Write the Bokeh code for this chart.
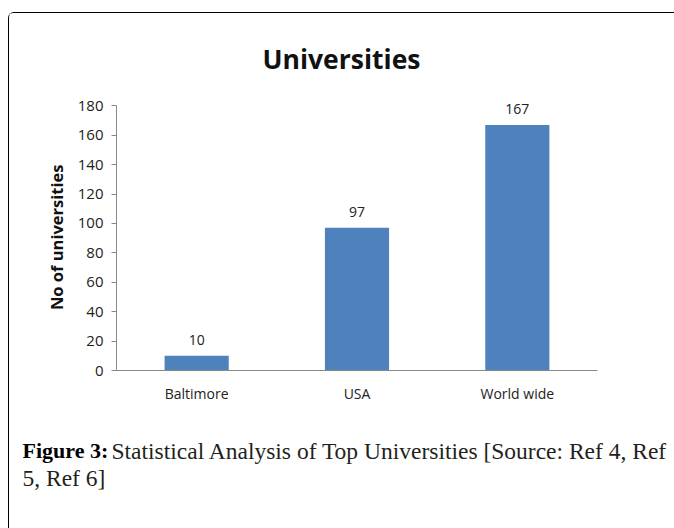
from bokeh.plotting import figure
from bokeh.layouts import column
from bokeh.models import ColumnDataSource, LabelSet, FactorRange, Range1d, FixedTicker
from bokeh.core.properties import value
from bokeh.embed import file_html
from bokeh.resources import INLINE

categories = ["Baltimore", "USA", "World wide"]
counts = [10, 97, 167]
y_ticks = [0, 20, 40, 60, 80, 100, 120, 140, 160, 180]
chart_title = "Universities"
y_label = "No of universities"
caption_bold = "Figure 3:"
caption_line1 = "Statistical Analysis of Top Universities [Source: Ref 4, Ref"
caption_line2 = "5, Ref 6]"

W = 665


def text_panel(height, top):
    f = figure(width=W, height=height, output_backend="svg", toolbar_location=None,
               x_range=Range1d(9, 9 + W), y_range=Range1d(top + height, top),
               x_axis_type=None, y_axis_type=None, min_border=0, frame_align=False)
    f.title = None
    f.outline_line_color = None
    f.grid.grid_line_color = None
    return f


# ---- title panel (page y 13..85)
t = text_panel(72, 13)
t.text(x=[341], y=[58], text=[chart_title], text_align="center", text_baseline="middle",
       text_font=value("Open Sans"), text_font_style="bold", text_font_size="26.5px",
       text_color="#111111")

# ---- chart (page y 85..410); small headroom above 180 keeps the "167" label unclipped
source = ColumnDataSource(data=dict(cat=categories, n=counts, lbl=[str(v) for v in counts]))
p = figure(width=W, height=325, output_backend="svg", toolbar_location=None,
           x_range=FactorRange(*categories, range_padding=0), y_range=Range1d(0, 187),
           min_border_left=107, min_border_right=77, min_border_top=10, min_border_bottom=40,
           frame_align=False)
p.title = None
p.outline_line_color = None
p.xgrid.grid_line_color = None
p.ygrid.grid_line_color = None

p.vbar(x="cat", top="n", width=0.4, source=source, color="#4F81BD", line_color=None)

p.add_layout(LabelSet(x="cat", y="n", text="lbl", source=source, text_align="center",
                      text_baseline="bottom", y_offset=11, text_font=value("Open Sans"),
                      text_font_size="14px", text_color="#222222"))

ax = p.yaxis[0]
ax.ticker = FixedTicker(ticks=y_ticks)
ax.bounds = (0, 180)
ax.axis_line_color = "#888888"
ax.major_tick_line_color = "#888888"
ax.major_tick_out = 5
ax.major_tick_in = 0
ax.minor_tick_line_color = None
ax.major_label_text_font = "Open Sans"
ax.major_label_text_font_size = "15px"
ax.major_label_text_color = "#222222"
ax.major_label_standoff = 8
ax.axis_label = y_label + "\u00a0\u00a0"
ax.axis_label_text_font = "Open Sans"
ax.axis_label_text_font_style = "bold"
ax.axis_label_text_font_size = "16.5px"
ax.axis_label_text_color = "#111111"
ax.axis_label_standoff = 7

bx = p.xaxis[0]
bx.axis_line_color = "#888888"
bx.major_tick_line_color = None
bx.minor_tick_line_color = None
bx.major_label_text_font = "Open Sans"
bx.major_label_text_font_size = "14px"
bx.major_label_text_color = "#222222"
bx.major_label_standoff = 7

# ---- caption (page y 410..528)
c = text_panel(118, 410)
c.text(x=[22], y=[450], text=[caption_bold], text_baseline="alphabetic",
       text_font=value("Liberation Serif"), text_font_style="bold", text_font_size="22px",
       text_color="black")
c.text(x=[111, 22], y=[450, 477], text=[caption_line1, caption_line2],
       text_baseline="alphabetic", text_font=value("Liberation Serif"),
       text_font_size="23.5px", text_color="#231f20")

layout = column(t, p, c, margin=(12, 0, 0, 8), spacing=0,
                styles={"border-top": "1px solid black", "border-left": "1px solid black",
                        "border-top-left-radius": "6px"})

open("out.html", "w").write(file_html(layout, INLINE))
